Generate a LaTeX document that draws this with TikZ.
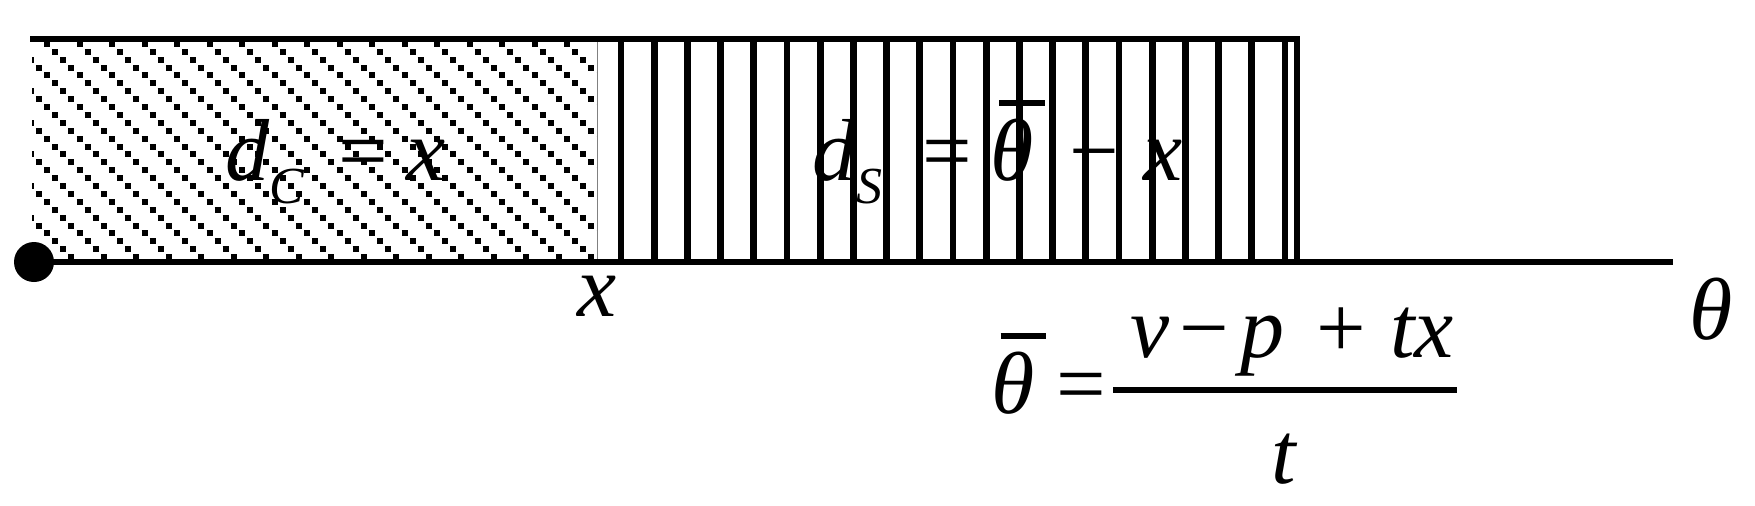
\documentclass[tikz,border=0pt]{standalone}
\usepackage{fontspec}
\setmainfont{Liberation Serif}

\newcommand\isub[1]{\raisebox{-0.27em}{\fontsize{26}{26}\selectfont\textit{#1}}}
\newcommand\thbar{\rlap{\kern0.1em\rule[0.84em]{0.52em}{2.8pt}}\textit{θ}}

\begin{document}
\begin{tikzpicture}[x=0.5pt, y=-0.5pt, line width=3.4pt,
  lbl/.style={inner sep=0pt, font=\fontsize{44}{52}\selectfont}]
\useasboundingbox (0,0) rectangle (1755,505);

% hatched part, rows of small squares
\begin{scope}
\clip (32,42) rectangle (597,259);
\foreach \k in {0,...,27}
  \draw[line width=3pt, dash pattern=on 3pt off 13.25pt]
    ({11.5+8.1*mod(\k,4)},{43.8+7.9*\k}) -- (600,{43.8+7.9*\k});
\end{scope}
\draw[line width=0.4pt, gray] (597,42) -- (597,259);

% striped part
\foreach \i in {0,...,20}
  \draw ({621+33.2*\i},39) -- ({621+33.2*\i},262);
\draw[line join=miter] (30,39) -- (1297,39) -- (1297,262);

\path (34,262) node[circle, fill, minimum size=20pt, inner sep=0pt] (v0) {}
      (1673,262) coordinate (ax)
      (222,180) node[lbl, anchor=base west] (c1) {\textit{d}\isub{C}\hspace{17pt}=\hspace{9pt}\textit{x}}
      (809,180) node[lbl, anchor=base west] (c2) {\textit{d}\isub{S}\hspace{20pt}=\hspace{9pt}\thbar\hspace{18pt}−\hspace{12pt}\textit{x}}
      (597,316) node[lbl, anchor=base] (lx) {\textit{x}}
      (1711,339) node[lbl, anchor=base] (th) {\textit{θ}}
      (1110,413) node[lbl, anchor=base east] (f0) {\thbar\hspace{11pt}=}
      (1292,357) node[lbl, anchor=base] (f1) {\textit{v}\hspace{5pt}−\hspace{6pt}\textit{p}\hspace{16pt}+\hspace{12pt}\textit{tx}}
      (1285,483) node[lbl, anchor=base] (f2) {\textit{t}};

\draw (v0.center) -- (ax);
\draw[line width=3pt] (1113,390) -- (1457,390);

\end{tikzpicture}
\end{document}
